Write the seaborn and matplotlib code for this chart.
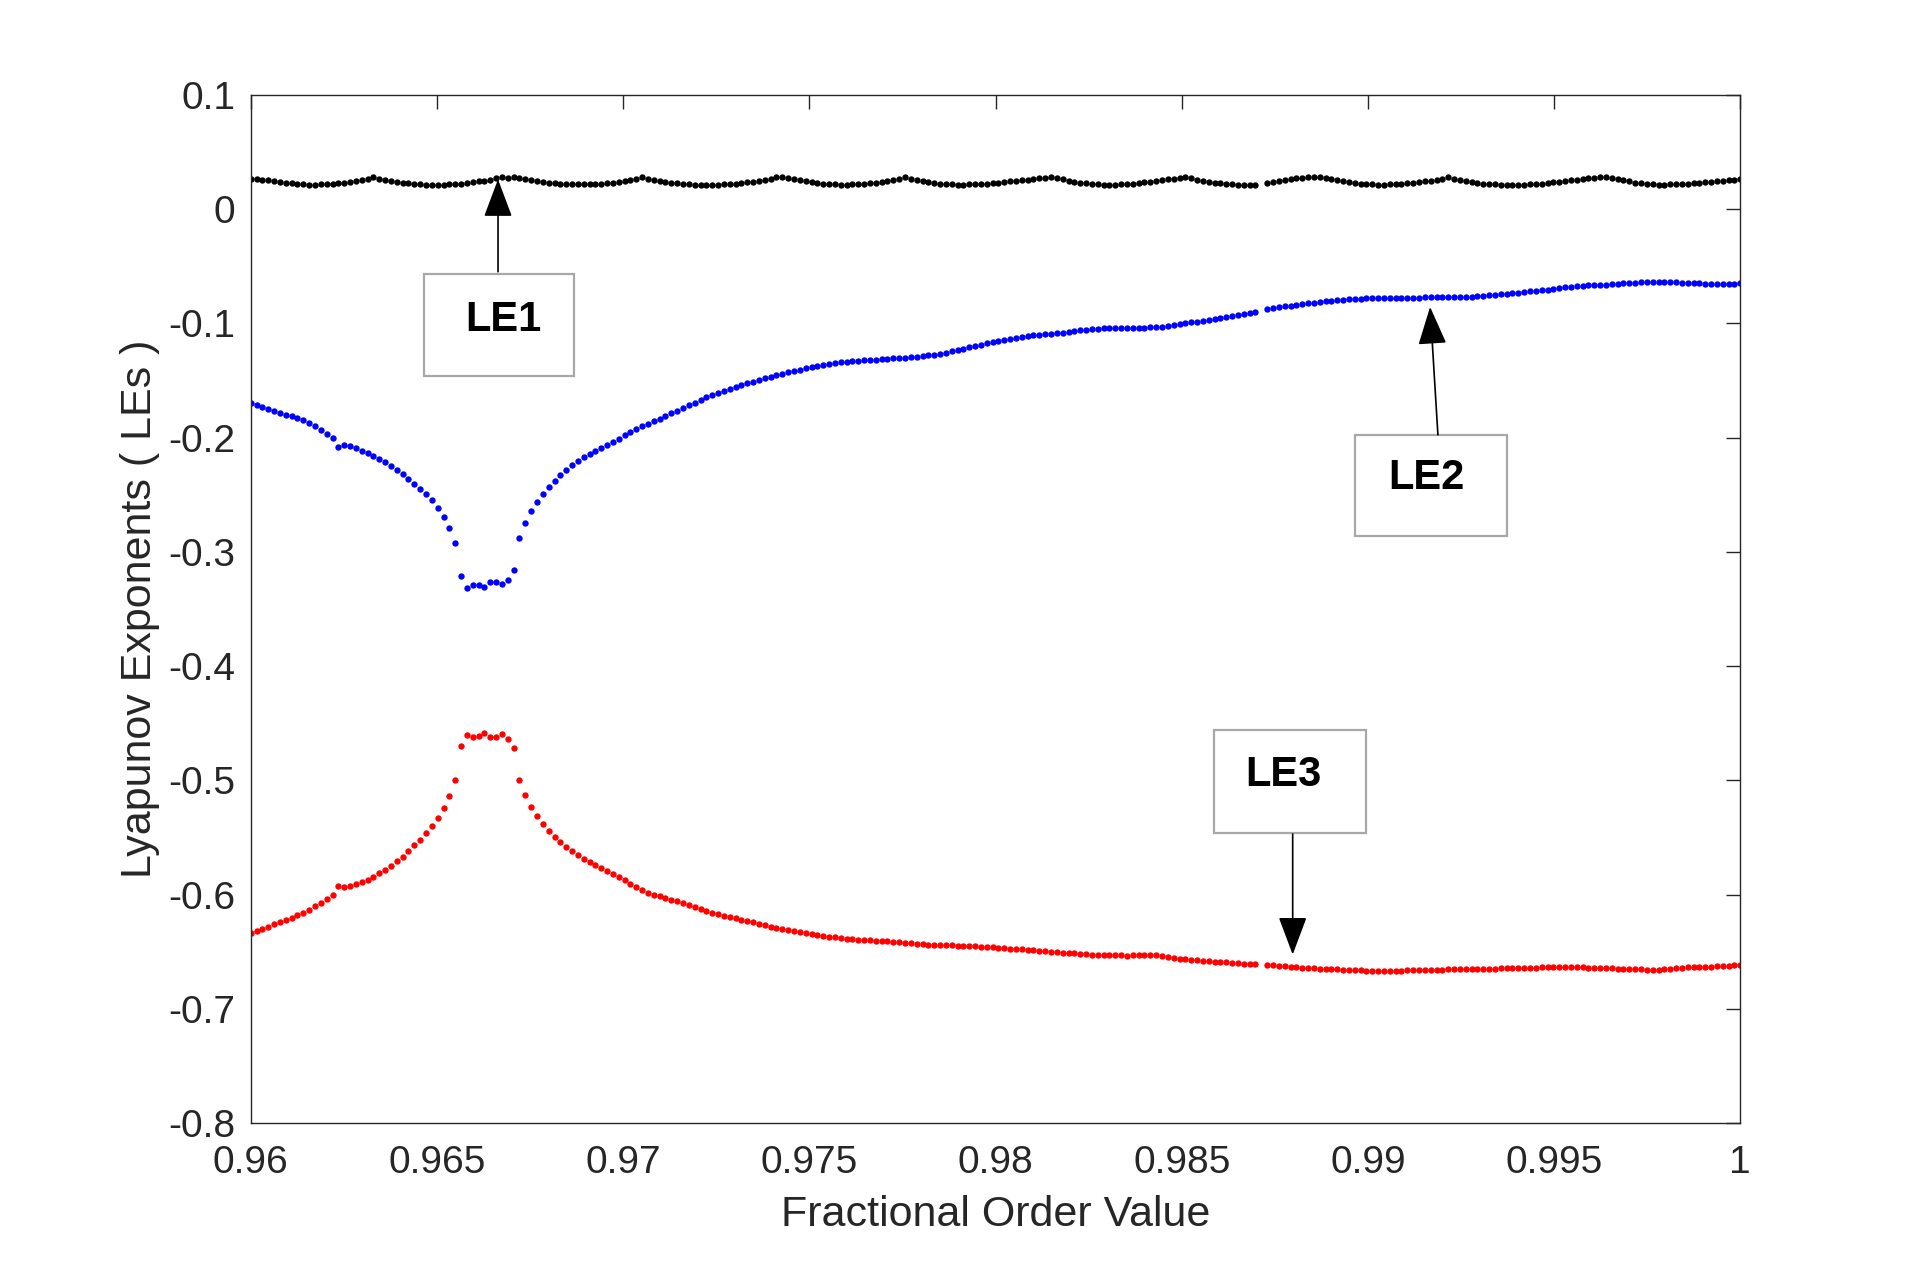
import numpy as np
import seaborn as sns
import matplotlib.pyplot as plt
from matplotlib.patches import Rectangle

nan = np.nan

# fractional order grid (256 samples between 0.96 and 1)
alpha = np.linspace(0.96, 1.0, 256)

# LE1 (black)
le1 = [
    .0268, .0263, .0258, .0252, .0246, .0240, .0233, .0227, .0222, .0218,
    .0216, .0216, .0217, .0219, .0222, .0226, .0231, .0237, .0245, .0254,
    .0265, .0278, .0268, .0257, .0248, .0240, .0233, .0227, .0222, .0218,
    .0216, .0215, .0215, .0216, .0218, .0221, .0225, .0230, .0236, .0243,
    .0251, .0260, .0270, .0280, .0276, .0282, .0272, .0262, .0253, .0245,
    .0238, .0232, .0227, .0223, .0220, .0218, .0217, .0217, .0218, .0220,
    .0223, .0227, .0232, .0238, .0245, .0254, .0265, .0280, .0268, .0257,
    .0248, .0240, .0233, .0227, .0222, .0218, .0216, .0215, .0214, .0214,
    .0215, .0217, .0220, .0224, .0229, .0235, .0242, .0250, .0259, .0268,
    .0278, .0285, .0275, .0264, .0254, .0245, .0237, .0230, .0224, .0220,
    .0217, .0216, .0216, .0217, .0219, .0222, .0226, .0231, .0237, .0244,
    .0253, .0264, .0278, .0267, .0256, .0246, .0237, .0230, .0224, .0220,
    .0217, .0216, .0216, .0217, .0219, .0222, .0225, .0229, .0233, .0238,
    .0243, .0248, .0253, .0259, .0265, .0271, .0277, .0283, .0273, .0262,
    .0251, .0241, .0233, .0226, .0221, .0217, .0215, .0214, .0215, .0217,
    .0220, .0224, .0229, .0235, .0242, .0249, .0256, .0262, .0268, .0274,
    .0280, .0270, .0260, .0250, .0241, .0233, .0226, .0221, .0217, .0214,
    .0212, .0210, .0209, nan, .0232, .0240, .0248, .0256, .0264, .0270,
    .0274, .0278, .0281, .0283, .0273, .0262, .0252, .0243, .0235, .0228,
    .0223, .0219, .0217, .0216, .0216, .0217, .0219, .0222, .0226, .0231,
    .0237, .0244, .0251, .0259, .0268, .0279, .0268, .0257, .0247, .0238,
    .0231, .0225, .0220, .0217, .0215, .0214, .0214, .0214, .0215, .0217,
    .0220, .0224, .0229, .0235, .0241, .0247, .0253, .0259, .0265, .0271,
    .0277, .0283, .0286, .0276, .0264, .0253, .0243, .0234, .0226, .0220,
    .0217, .0216, .0216, .0217, .0219, .0222, .0225, .0229, .0233, .0237,
    .0241, .0245, .0249, .0253, .0257, .0261,
]

# LE2 (blue)
le2 = [
    -.1694, -.1711, -.1729, -.1746, -.1764, -.1781, -.1799, -.1813, -.1831, -.1848,
    -.1872, -.1898, -.1930, -.1965, -.2006, -.2082, -.2064, -.2076, -.2093, -.2114,
    -.2134, -.2157, -.2184, -.2213, -.2248, -.2283, -.2321, -.2362, -.2405, -.2449,
    -.2496, -.2545, -.2618, -.2691, -.2790, -.2924, -.3213, -.3312, -.3289, -.3289,
    -.3309, -.3266, -.3260, -.3283, -.3242, -.3161, -.2875, -.2744, -.2645, -.2563,
    -.2493, -.2432, -.2379, -.2327, -.2280, -.2242, -.2204, -.2172, -.2143, -.2117,
    -.2090, -.2061, -.2035, -.2009, -.1980, -.1950, -.1924, -.1901, -.1878, -.1855,
    -.1832, -.1809, -.1787, -.1764, -.1740, -.1716, -.1692, -.1668, -.1645, -.1624,
    -.1605, -.1587, -.1570, -.1554, -.1539, -.1524, -.1509, -.1494, -.1479, -.1465,
    -.1451, -.1438, -.1426, -.1415, -.1404, -.1394, -.1384, -.1374, -.1364, -.1354,
    -.1345, -.1339, -.1335, -.1331, -.1327, -.1323, -.1319, -.1316, -.1312, -.1309,
    -.1306, -.1302, -.1299, -.1295, -.1291, -.1286, -.1280, -.1274, -.1267, -.1256,
    -.1244, -.1232, -.1220, -.1208, -.1196, -.1185, -.1175, -.1165, -.1155, -.1145,
    -.1135, -.1126, -.1117, -.1108, -.1103, -.1098, -.1093, -.1088, -.1084, -.1079,
    -.1073, -.1067, -.1061, -.1055, -.1049, -.1045, -.1043, -.1042, -.1041, -.1041,
    -.1040, -.1040, -.1039, -.1037, -.1035, -.1033, -.1030, -.1025, -.1017, -.1008,
    -.0999, -.0991, -.0984, -.0977, -.0969, -.0962, -.0955, -.0947, -.0937, -.0927,
    -.0917, -.0907, -.0897, nan, -.0875, -.0866, -.0858, -.0851, -.0844, -.0838,
    -.0832, -.0825, -.0818, -.0812, -.0807, -.0802, -.0798, -.0794, -.0790, -.0787,
    -.0783, -.0779, -.0777, -.0776, -.0775, -.0775, -.0774, -.0774, -.0774, -.0773,
    -.0773, -.0772, -.0772, -.0771, -.0770, -.0769, -.0768, -.0767, -.0766, -.0764,
    -.0760, -.0756, -.0752, -.0748, -.0743, -.0739, -.0734, -.0729, -.0724, -.0719,
    -.0714, -.0709, -.0703, -.0697, -.0691, -.0685, -.0679, -.0673, -.0669, -.0666,
    -.0663, -.0661, -.0659, -.0656, -.0653, -.0650, -.0647, -.0644, -.0640, -.0637,
    -.0635, -.0634, -.0635, -.0637, -.0640, -.0643, -.0645, -.0647, -.0649, -.0651,
    -.0653, -.0654, -.0653, -.0652, -.0651, -.0650,
]

# LE3 (red)
le3 = [
    -.6336, -.6316, -.6298, -.6281, -.6260, -.6243, -.6225, -.6205, -.6181, -.6158,
    -.6132, -.6102, -.6070, -.6038, -.6000, -.5921, -.5933, -.5921, -.5906, -.5889,
    -.5868, -.5845, -.5813, -.5781, -.5746, -.5708, -.5667, -.5620, -.5570, -.5520,
    -.5465, -.5398, -.5327, -.5243, -.5137, -.4994, -.4702, -.4599, -.4620, -.4614,
    -.4585, -.4623, -.4623, -.4594, -.4635, -.4713, -.5000, -.5132, -.5234, -.5316,
    -.5380, -.5442, -.5494, -.5538, -.5579, -.5617, -.5652, -.5684, -.5713, -.5743,
    -.5769, -.5792, -.5819, -.5845, -.5874, -.5904, -.5930, -.5956, -.5982, -.6000,
    -.6016, -.6031, -.6045, -.6058, -.6075, -.6093, -.6110, -.6128, -.6145, -.6161,
    -.6173, -.6185, -.6197, -.6209, -.6220, -.6232, -.6244, -.6256, -.6268, -.6280,
    -.6292, -.6303, -.6312, -.6321, -.6330, -.6339, -.6348, -.6356, -.6362, -.6368,
    -.6374, -.6380, -.6385, -.6390, -.6394, -.6397, -.6400, -.6403, -.6406, -.6410,
    -.6415, -.6419, -.6423, -.6427, -.6431, -.6434, -.6437, -.6439, -.6441, -.6443,
    -.6445, -.6447, -.6450, -.6452, -.6454, -.6456, -.6459, -.6462, -.6466, -.6469,
    -.6473, -.6476, -.6480, -.6483, -.6487, -.6491, -.6495, -.6499, -.6503, -.6507,
    -.6511, -.6515, -.6519, -.6523, -.6527, -.6529, -.6531, -.6532, -.6533, -.6533,
    -.6534, -.6533, -.6532, -.6530, -.6529, -.6533, -.6540, -.6546, -.6553, -.6560,
    -.6567, -.6572, -.6576, -.6580, -.6583, -.6587, -.6590, -.6594, -.6597, -.6601,
    -.6604, -.6608, -.6611, nan, -.6616, -.6620, -.6624, -.6628, -.6632, -.6635,
    -.6639, -.6642, -.6645, -.6647, -.6650, -.6652, -.6654, -.6656, -.6659, -.6661,
    -.6663, -.6665, -.6666, -.6667, -.6667, -.6667, -.6666, -.6665, -.6664, -.6662,
    -.6660, -.6659, -.6658, -.6657, -.6656, -.6655, -.6654, -.6653, -.6652, -.6651,
    -.6650, -.6649, -.6648, -.6647, -.6646, -.6645, -.6644, -.6643, -.6642, -.6641,
    -.6640, -.6638, -.6637, -.6637, -.6636, -.6636, -.6636, -.6637, -.6638, -.6639,
    -.6640, -.6641, -.6643, -.6645, -.6647, -.6649, -.6651, -.6653, -.6655, -.6657,
    -.6657, -.6656, -.6653, -.6649, -.6645, -.6641, -.6638, -.6636, -.6634, -.6632,
    -.6630, -.6628, -.6625, -.6623, -.6620, -.6618,
]

x_ticks = [0.96, 0.965, 0.97, 0.975, 0.98, 0.985, 0.99, 0.995, 1.0]
x_tick_labels = ['0.96', '0.965', '0.97', '0.975', '0.98', '0.985', '0.99', '0.995', '1']
y_ticks = [-0.8, -0.7, -0.6, -0.5, -0.4, -0.3, -0.2, -0.1, 0.0, 0.1]
y_tick_labels = ['-0.8', '-0.7', '-0.6', '-0.5', '-0.4', '-0.3', '-0.2', '-0.1', '0', '0.1']

# annotation boxes: label, (x0, y0, w, h), text position, arrow tail, arrow tip
notes = [
    ('LE1', (0.96465, -0.1463, 0.00403, 0.0899), (0.96678, -0.0966),
     (0.96664, -0.0547), (0.96664, 0.0262)),
    ('LE2', (0.98966, -0.2859, 0.00408, 0.0879), (0.99156, -0.2353),
     (0.99188, -0.1975), (0.99167, -0.0855)),
    ('LE3', (0.98587, -0.5465, 0.00408, 0.0902), (0.98772, -0.4949),
     (0.98798, -0.5470), (0.98798, -0.6525)),
]

sns.set_theme(style='white')
plt.rcParams['font.family'] = ['Liberation Sans', 'DejaVu Sans']
plt.rcParams['axes.unicode_minus'] = False

fig = plt.figure(figsize=(19.2, 12.62), dpi=100)
ax = fig.add_axes([0.1306, 0.1101, 0.7758, 0.8146])

for vals, col in [(le1, '#000000'), (le2, '#0000ff'), (le3, '#ff0000')]:
    sns.scatterplot(x=alpha, y=vals, color=col, s=21, linewidth=0, ax=ax, zorder=2)

ax.set_xlim(0.96, 1.0)
ax.set_ylim(-0.8, 0.1)
ax.set_xticks(x_ticks, x_tick_labels)
ax.set_yticks(y_ticks, y_tick_labels)
ax.tick_params(direction='in', length=10, width=1, top=True, right=True,
               labelsize=28, colors='#262626')
ax.tick_params(axis='x', pad=16)
ax.tick_params(axis='y', pad=11)
for sp in ax.spines.values():
    sp.set_color('#262626')
    sp.set_linewidth(1)

ax.set_xlabel('Fractional Order Value', fontsize=31, color='#262626', labelpad=10)
ax.set_ylabel('Lyapunov Exponents ( LEs )', fontsize=31, color='#262626', labelpad=6)

for label, (bx, by, bw, bh), (tx, ty), tail, tip in notes:
    ax.add_patch(Rectangle((bx, by), bw, bh, facecolor='white', edgecolor='#a8a8a8',
                           linewidth=1.6, zorder=3))
    ax.text(tx, ty, label, fontsize=30, fontweight='bold', color='black',
            ha='center', va='center', zorder=4)
    ax.annotate('', xy=tip, xytext=tail, zorder=4,
                arrowprops=dict(arrowstyle='-|>,head_length=2.4,head_width=0.9',
                                mutation_scale=10, color='black', lw=1.2,
                                shrinkA=0, shrinkB=0))

plt.savefig('out.png', dpi=100)
plt.close()
